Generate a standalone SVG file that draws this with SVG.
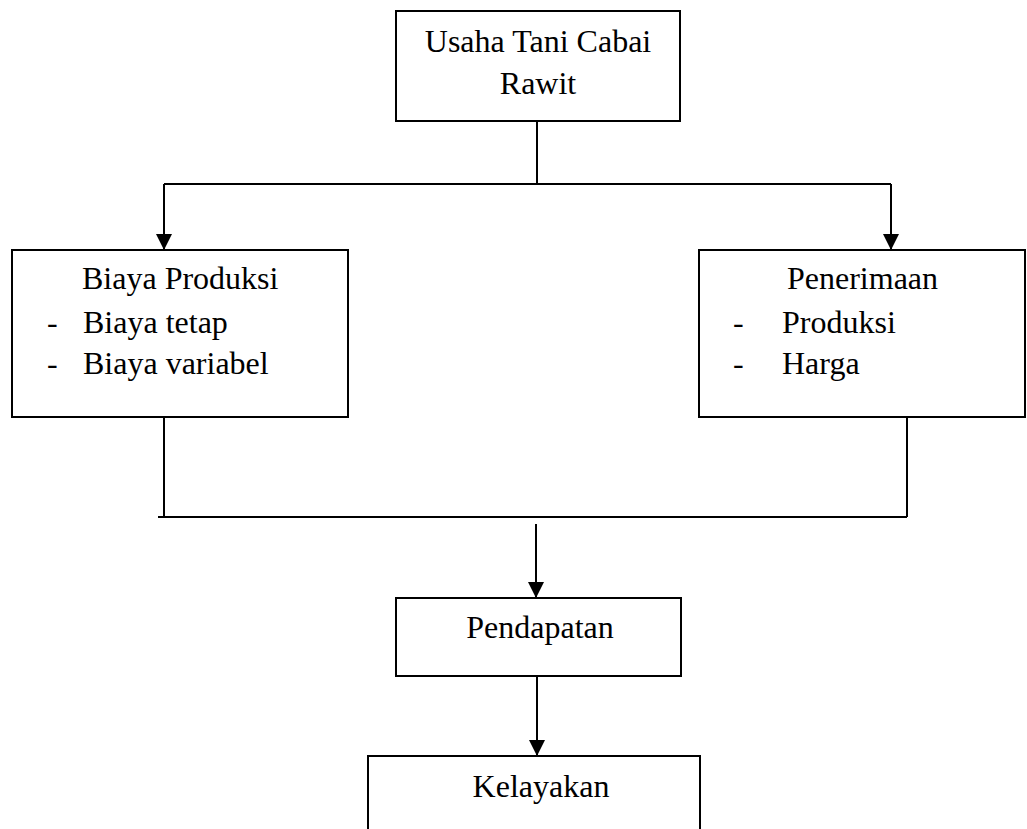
<svg xmlns="http://www.w3.org/2000/svg" width="1027" height="829" viewBox="0 0 1027 829">
<style>
.box{fill:#fff;stroke:#000;stroke-width:2}
.ln{fill:none;stroke:#000;stroke-width:2}
text{font-family:"Liberation Serif","Times New Roman",serif;font-size:32px;fill:#000}
</style>
<defs>
<marker id="ah" markerWidth="16" markerHeight="16" viewBox="0 0 16 16" refX="16" refY="8" orient="auto" markerUnits="userSpaceOnUse">
<path d="M0,0 L16,8 L0,16 Z" fill="#000"/>
</marker>
</defs>
<rect width="1027" height="829" fill="#fff"/>
<g id="connectors">
<path class="ln" d="M537,121 V184"/>
<path class="ln" d="M164,184 H891"/>
<path class="ln" d="M164,184 V250" marker-end="url(#ah)"/>
<path class="ln" d="M891,184 V250" marker-end="url(#ah)"/>
<path class="ln" d="M164,417 V517"/>
<path class="ln" d="M907,417 V517"/>
<path class="ln" d="M158,517 H907"/>
<path class="ln" d="M536,524 V598" marker-end="url(#ah)"/>
<path class="ln" d="M537,676 V756" marker-end="url(#ah)"/>
</g>
<g id="usaha">
<rect class="box" x="396" y="11" width="284" height="110"/>
<text x="538" y="52" text-anchor="middle">Usaha Tani Cabai</text>
<text x="538" y="94" text-anchor="middle">Rawit</text>
</g>
<g id="biaya">
<rect class="box" x="12" y="250" width="336" height="167"/>
<text x="82" y="289">Biaya Produksi</text>
<text x="47" y="333">-</text>
<text x="83" y="333">Biaya tetap</text>
<text x="47" y="374">-</text>
<text x="83" y="374">Biaya variabel</text>
</g>
<g id="penerimaan">
<rect class="box" x="699" y="250" width="326" height="167"/>
<text x="787" y="289">Penerimaan</text>
<text x="733" y="333">-</text>
<text x="782" y="333">Produksi</text>
<text x="733" y="374">-</text>
<text x="782" y="374">Harga</text>
</g>
<g id="pendapatan">
<rect class="box" x="396" y="598" width="285" height="78"/>
<text x="540" y="638" text-anchor="middle">Pendapatan</text>
</g>
<g id="kelayakan">
<path class="box" d="M368,829 V756 H700 V829"/>
<text x="541" y="797" text-anchor="middle">Kelayakan</text>
</g>
</svg>
